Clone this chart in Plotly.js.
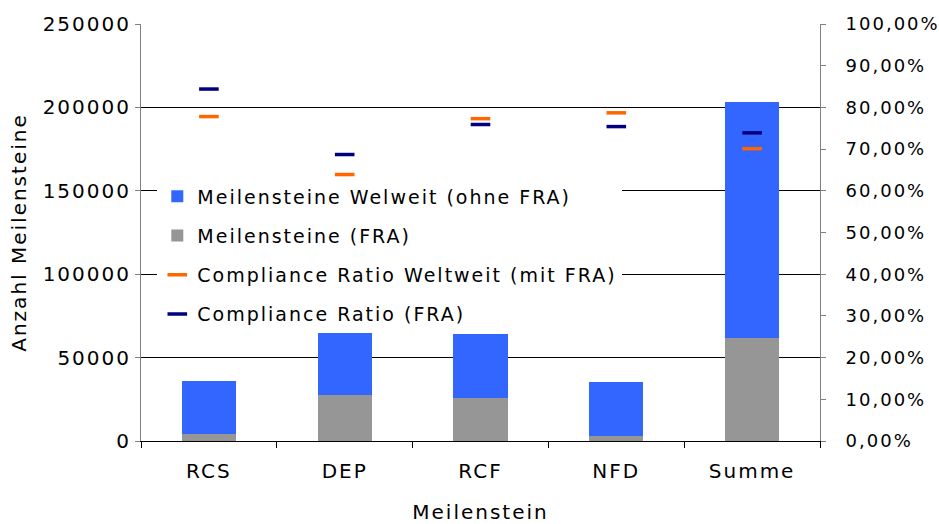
<!DOCTYPE html>
<html><head><meta charset="utf-8">
<script src="https://cdn.plot.ly/plotly-3.0.1.min.js"></script>
<style>body{margin:0;background:#fff}#c{width:939px;height:524px}svg text{letter-spacing:2px}</style>
</head><body><div id="c"></div>
<script>
const categories = ["RCS", "DEP", "RCF", "NFD", "Summe"];
const meilensteineFRA = [4300, 27300, 26000, 3000, 62000];
const meilensteineOhneFRA = [31500, 37300, 38200, 32500, 141000];
const ratioWeltweit = [0.778, 0.639, 0.773, 0.787, 0.701];
const ratioFRA = [0.844, 0.687, 0.759, 0.754, 0.739];

const fnt = "DejaVu Sans, Verdana, sans-serif";
const traces = [
  {type:"bar", x:categories, y:meilensteineFRA, name:"Meilensteine (FRA)", marker:{color:"#969696"}, width:0.4, legendrank:2, legendgroup:"b"},
  {type:"bar", x:categories, y:meilensteineOhneFRA, name:"Meilensteine Welweit (ohne FRA)", marker:{color:"#3366FF"}, width:0.4, legendrank:1, legendgroup:"a"},
  {type:"scatter", mode:"markers", x:categories, y:ratioWeltweit, yaxis:"y2", name:"Compliance Ratio Weltweit (mit FRA)", marker:{symbol:"line-ew", size:14, line:{width:3.5, color:"#FF6600"}, color:"#FF6600"}, legendrank:3, legendgroup:"c"},
  {type:"scatter", mode:"markers", x:categories, y:ratioFRA, yaxis:"y2", name:"Compliance Ratio (FRA)", marker:{symbol:"line-ew", size:14, line:{width:3.5, color:"#000080"}, color:"#000080"}, legendrank:4, legendgroup:"d"}
];
const layout = {
  width:939, height:524,
  margin:{l:141, r:119, t:24, b:83},
  paper_bgcolor:"#fff", plot_bgcolor:"#fff",
  separators:",.",
  barmode:"stack",
  font:{family:fnt, size:20, color:"#000"},
  showlegend:true,
  legend:{x:0.024, y:0.632, xanchor:"left", yanchor:"top", bgcolor:"#fff", traceorder:"grouped", tracegroupgap:11.5, font:{family:fnt, size:19, color:"#000"}},
  xaxis:{title:{text:"Meilenstein", font:{size:20}, standoff:29}, showline:true, linecolor:"#000", linewidth:1, ticks:"outside", tickson:"boundaries", ticklen:6, tickcolor:"#000", ticklabelstandoff:12, showgrid:false},
  yaxis:{title:{text:"Anzahl Meilensteine", font:{size:20}, standoff:10}, range:[0,250000], dtick:50000, tickformat:"d", showline:true, linecolor:"#808080", ticks:"outside", ticklen:5, tickcolor:"#808080", showgrid:true, gridcolor:"#000", gridwidth:1, zeroline:false},
  yaxis2:{overlaying:"y", side:"right", range:[0,1], dtick:0.1, tickformat:".2%", tickfont:{size:18}, ticklabelstandoff:16, showline:true, linecolor:"#808080", ticks:"outside", ticklen:5, tickcolor:"#808080", showgrid:false, zeroline:false}
};
Plotly.newPlot("c", traces, layout, {displayModeBar:false});
</script></body></html>
